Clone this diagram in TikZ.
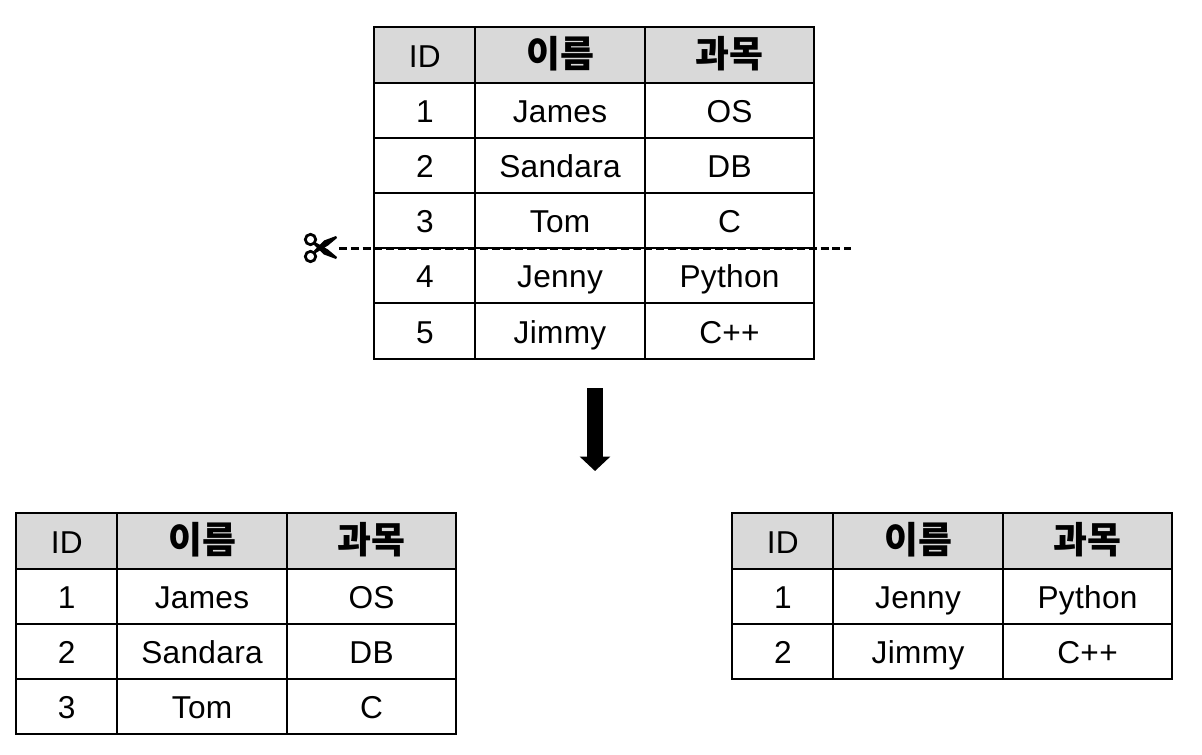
\documentclass[tikz,border=0pt]{standalone}
\usepackage{fontspec}
\setmainfont{Liberation Sans}[LetterSpace=1]
\newfontfamily\cjk{Noto Sans CJK KR}
\usetikzlibrary{arrows.meta}

\begin{document}
\begin{tikzpicture}[
        x=0.02cm, y=-0.02cm,
        font=\fontsize{18}{20}\selectfont,
        cell/.style={draw=black, line width=0.04cm, inner sep=0pt, outer sep=0pt, anchor=north west, minimum height=1.104cm, text height=16.8pt, text depth=3pt},
        idcell/.style={cell, minimum width=2.02cm},
        namecell/.style={cell, minimum width=3.39cm},
        subjcell/.style={cell, minimum width=3.39cm},
        head/.style={fill=black!15},
        kor/.style={font=\cjk\bfseries\fontsize{21}{22}\selectfont}
    ]
    \useasboundingbox (0,0) rectangle (1202,754);

    % Original table
    \node[idcell, head] (aid) at (374.3, 27.4) {ID};
    \node[namecell, head, kor] (aname) at (475.3, 27.4) {이름};
    \node[subjcell, head, kor] (asubj) at (644.8, 27.4) {과목};
    \foreach \a/\b/\c [count=\r] in {1/James/OS, 2/Sandara/DB, 3/Tom/C, 4/Jenny/Python, 5/Jimmy/C++} {
        \node[idcell] (aid\r) at (374.3, {27.4+55.2*\r}) {\a};
        \node[namecell] (aname\r) at (475.3, {27.4+55.2*\r}) {\b};
        \node[subjcell] (asubj\r) at (644.8, {27.4+55.2*\r}) {\c};
    }

    % Scissors
    \draw[line width=0.055cm] (310.5, 239.5) circle (5.2);
    \draw[line width=0.055cm] (310.5, 256.5) circle (5.2);
    \fill (315, 242) -- (328, 249.5) -- (337, 257) -- (336, 259) -- (324, 254.5) -- (314, 245) -- cycle;
    \fill (315, 253.5) -- (328, 245.5) -- (337, 238) -- (336, 236) -- (324, 240.5) -- (314, 250.5) -- cycle;

    % Cut line
    \coordinate (cutstart) at (339, 248.2);
    \coordinate (cutend) at (851, 248.2);
    \draw[line width=0.06cm, dash pattern=on 0.16cm off 0.075cm] (cutstart) -- (cutend);

    % Arrow
    \coordinate (arrowtop) at (595, 388);
    \coordinate (arrowtip) at (595, 471);
    \draw[line width=0.31cm, -{Triangle[length=0.29cm, width=0.6cm]}] (arrowtop) -- (arrowtip);

    % Left table
    \node[idcell, head] (bid) at (16.3, 513.4) {ID};
    \node[namecell, head, kor] (bname) at (117.3, 513.4) {이름};
    \node[subjcell, head, kor] (bsubj) at (286.8, 513.4) {과목};
    \foreach \a/\b/\c [count=\r] in {1/James/OS, 2/Sandara/DB, 3/Tom/C} {
        \node[idcell] (bid\r) at (16.3, {513.4+55.2*\r}) {\a};
        \node[namecell] (bname\r) at (117.3, {513.4+55.2*\r}) {\b};
        \node[subjcell] (bsubj\r) at (286.8, {513.4+55.2*\r}) {\c};
    }

    % Right table
    \node[idcell, head] (cid) at (732.3, 513.4) {ID};
    \node[namecell, head, kor] (cname) at (833.3, 513.4) {이름};
    \node[subjcell, head, kor] (csubj) at (1002.8, 513.4) {과목};
    \foreach \a/\b/\c [count=\r] in {1/Jenny/Python, 2/Jimmy/C++} {
        \node[idcell] (cid\r) at (732.3, {513.4+55.2*\r}) {\a};
        \node[namecell] (cname\r) at (833.3, {513.4+55.2*\r}) {\b};
        \node[subjcell] (csubj\r) at (1002.8, {513.4+55.2*\r}) {\c};
    }
\end{tikzpicture}
\end{document}
